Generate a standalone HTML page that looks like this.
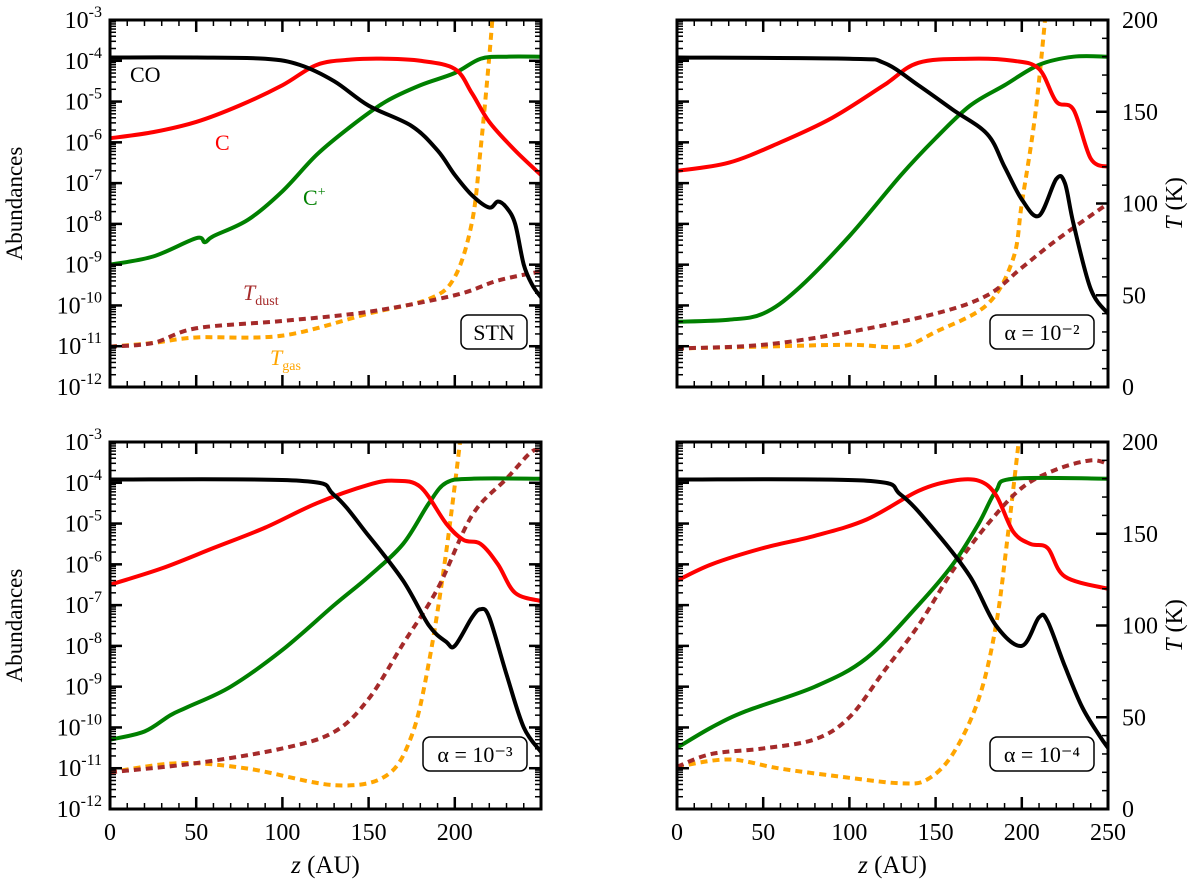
<!DOCTYPE html>
<html><head><meta charset="utf-8"><style>
body{margin:0;background:#fff;}
svg,svg text{font-family:"Liberation Serif","DejaVu Serif",serif;}
</style></head><body>
<svg id="c" width="1200" height="885" xmlns="http://www.w3.org/2000/svg" font-family="Liberation Serif, serif"></svg>
<script>
const zGrid=[0,50,100,150,200,250];
const coSTN=[[0,-3.92],[50,-3.92],[90,-3.95],[110,-4.1],[130,-4.5],[150,-5.1],[175,-5.6],[190,-6.2],[200,-6.8],[210,-7.3],[220,-7.6],[225,-7.45],[230,-7.6],[235,-8],[240,-9],[245,-9.5],[250,-9.8]];
const cSTN=[[0,-5.9],[25,-5.75],[50,-5.5],[75,-5.1],[100,-4.6],[120,-4.1],[140,-3.97],[160,-3.95],[180,-4.0],[200,-4.2],[210,-4.8],[220,-5.5],[235,-6.2],[250,-6.8]];
const cpSTN=[[0,-9.0],[25,-8.8],[50,-8.35],[55,-8.45],[60,-8.3],[80,-7.9],[100,-7.2],[120,-6.3],[140,-5.6],[160,-5.0],[180,-4.6],[200,-4.3],[215,-3.95],[230,-3.9],[250,-3.9]];
const tdSTN=[[0,22],[25,24],[50,32],[100,36],[150,41],[200,50],[225,58],[250,63]];
const tgSTN=[[0,22],[25,24],[50,27],[100,28],[150,40],[185,48],[200,60],[210,90],[215,130],[220,180],[223,215]];

const co2=[[0,-3.92],[100,-3.95],[120,-4.05],[140,-4.6],[160,-5.2],[180,-5.8],[190,-6.6],[200,-7.4],[210,-7.8],[220,-6.9],[225,-7.0],[230,-8.0],[240,-9.6],[250,-10.2]];
const c2=[[0,-6.7],[30,-6.5],[60,-6.0],[90,-5.4],[120,-4.6],[140,-4.05],[170,-3.95],[195,-4.0],[210,-4.2],[220,-5.0],[230,-5.2],[240,-6.4],[250,-6.6]];
const cp2=[[0,-10.4],[30,-10.35],[50,-10.2],[70,-9.6],[100,-8.3],[130,-6.8],[150,-5.9],[170,-5.1],[190,-4.6],[210,-4.1],[230,-3.9],[250,-3.9]];
const td2=[[0,21],[50,23],[100,30],[150,40],[180,50],[200,65],[220,80],[250,100]];
const tg2=[[0,21],[50,22],[100,23],[130,22],[150,30],[180,45],[195,70],[200,100],[208,150],[215,215]];

const co3=[[0,-3.92],[110,-3.95],[130,-4.3],[150,-5.3],[170,-6.4],[185,-7.5],[195,-7.9],[200,-8.0],[210,-7.3],[215,-7.1],[220,-7.3],[230,-8.7],[240,-10.0],[250,-10.6]];
const c3=[[0,-6.5],[30,-6.1],[60,-5.6],[90,-5.1],[120,-4.5],[150,-4.05],[165,-3.95],[180,-4.1],[195,-5.0],[205,-5.4],[215,-5.5],[225,-6.0],[235,-6.7],[250,-6.9]];
const cp3=[[0,-10.3],[20,-10.1],[35,-9.7],[45,-9.5],[70,-9.0],[100,-8.1],[130,-7.0],[150,-6.3],[170,-5.5],[185,-4.5],[195,-4.0],[210,-3.9],[250,-3.9]];
const td3=[[0,20],[50,25],[100,33],[130,42],[150,60],[170,90],[190,120],[210,160],[230,180],[245,195],[250,193]];
const tg3=[[0,20],[40,25],[80,22],[130,13],[160,18],[175,40],[185,80],[195,140],[205,215]];

const co4=[[0,-3.92],[110,-3.95],[130,-4.3],[150,-5.2],[170,-6.3],[185,-7.5],[200,-8.0],[210,-7.3],[215,-7.4],[225,-8.5],[235,-9.5],[245,-10.2],[250,-10.5]];
const c4=[[0,-6.4],[20,-6.0],[50,-5.6],[80,-5.3],[110,-4.9],[140,-4.2],[160,-3.95],[175,-3.95],[185,-4.3],[195,-5.2],[205,-5.5],[215,-5.6],[225,-6.3],[250,-6.6]];
const cp4=[[0,-10.5],[20,-10.0],[40,-9.6],[80,-9.0],[110,-8.3],[140,-7.0],[160,-6.0],[175,-5.0],[185,-4.2],[195,-3.9],[250,-3.9]];
const td4=[[0,23],[20,30],[50,33],[80,38],[100,50],[120,75],[140,100],[160,130],[180,155],[200,175],[220,185],[240,190],[250,188]];
const tg4=[[0,23],[30,27],[60,22],[100,17],[130,14],[145,16],[160,30],[175,60],[185,100],[192,150],[200,215]];

const NS="http://www.w3.org/2000/svg";
const svg=document.getElementById('c');
const FF='Liberation Serif, DejaVu Serif, serif';
function el(t,a,p){const e=document.createElementNS(NS,t);for(const k in a)e.setAttribute(k,a[k]);if(t=='text')e.setAttribute('font-family',FF);(p||svg).appendChild(e);return e;}
function smooth(pts){let d='M'+pts[0][0]+','+pts[0][1];
 for(let i=0;i<pts.length-1;i++){const p0=pts[Math.max(0,i-1)],p1=pts[i],p2=pts[i+1],p3=pts[Math.min(pts.length-1,i+2)];
  const c1=[p1[0]+(p2[0]-p0[0])/6,p1[1]+(p2[1]-p0[1])/6],c2=[p2[0]-(p3[0]-p1[0])/6,p2[1]-(p3[1]-p1[1])/6];
  d+=' C'+c1[0]+','+c1[1]+' '+c2[0]+','+c2[1]+' '+p2[0]+','+p2[1];}
 return d;}
const panels=[
 {x0:110,y0:20,co:coSTN,c:cSTN,cp:cpSTN,td:tdSTN,tg:tgSTN,left:true,right:false,bot:false,lab:'STN'},
 {x0:677,y0:20,co:co2,c:c2,cp:cp2,td:td2,tg:tg2,left:false,right:true,bot:false,lab:'α = 10⁻²'},
 {x0:110,y0:442,co:co3,c:c3,cp:cp3,td:td3,tg:tg3,left:true,right:false,bot:true,lab:'α = 10⁻³'},
 {x0:677,y0:442,co:co4,c:c4,cp:cp4,td:td4,tg:tg4,left:false,right:true,bot:true,lab:'α = 10⁻⁴'}];
const W=431,H=367;
panels.forEach((p,i)=>{
 const xs=z=>p.x0+z/250*W, ya=v=>p.y0+(-3-v)/9*H, yt=t=>p.y0+H-t/200*H;
 const g=el('g',{});
 
 
 const cid='clip'+i;
 const cp=el('clipPath',{id:cid},g);el('rect',{x:p.x0,y:p.y0,width:W,height:H},cp);
 const pg=el('g',{'clip-path':'url(#'+cid+')'},g);
 function line(d,f,col,name,dash){const pl=el('path',{d:smooth(d.map(q=>[xs(q[0]),f(q[1])])),fill:'none',stroke:col,'stroke-width':4,'stroke-dasharray':dash||'none','stroke-linejoin':'round'},pg);
  
  }
 line(p.tg,yt,'#ffa500','tgas-line','7,5');
 line(p.td,yt,'#a52a2a','tdust-line','7,5');
 line(p.cp,ya,'#008000','cplus-line');
 line(p.c,ya,'#ff0000','c-line');
 line(p.co,ya,'#000','co-line');
 el('rect',{x:p.x0,y:p.y0,width:W,height:H,fill:'none',stroke:'#000','stroke-width':3},g);
 for(let z=0;z<=250;z+=10){const maj=z%50==0,L=maj?12:6,x=xs(z);
  el('line',{x1:x,y1:p.y0,x2:x,y2:p.y0+L,stroke:'#000','stroke-width':maj?2.5:1.5},g);
  el('line',{x1:x,y1:p.y0+H,x2:x,y2:p.y0+H-L,stroke:'#000','stroke-width':maj?2.5:1.5},g);}
 if(p.bot){zGrid.forEach(z=>{if(!p.right&&z==250)return;const t=el('text',{x:xs(z),y:p.y0+H+31,'font-size':24,'text-anchor':'middle'},g);t.textContent=z;});
  const t=el('text',{x:p.x0+W/2,y:p.y0+H+64,'font-size':25,'text-anchor':'middle'},g);t.innerHTML='<tspan font-style="italic">z</tspan> (AU)';}
 for(let d=-12;d<-3;d++){for(let m=1;m<10;m++){const v=d+Math.log10(m),y=ya(v),L=m==1?12:6;
  el('line',{x1:p.x0,y1:y,x2:p.x0+L,y2:y,stroke:'#000','stroke-width':m==1?2.5:1.5},g);
  if(!p.right)el('line',{x1:p.x0+W,y1:y,x2:p.x0+W-L,y2:y,stroke:'#000','stroke-width':m==1?2.5:1.5},g);}}
 if(p.left){for(let d=-12;d<=-3;d++){const t=el('text',{x:p.x0-8,y:ya(d)+8,'font-size':24,'text-anchor':'end'},g);t.innerHTML='10<tspan dy="-11" font-size="16">'+d+'</tspan>';}
  const t=el('text',{x:22,y:p.y0+H/2,'font-size':23,'text-anchor':'middle',transform:'rotate(-90 22 '+(p.y0+H/2)+')'},g);t.textContent='Abundances';}
 if(p.right){for(let T=0;T<=200;T+=10){const y=yt(T),maj=T%50==0,L=maj?12:6;el('line',{x1:p.x0+W,y1:y,x2:p.x0+W-L,y2:y,stroke:'#000','stroke-width':maj?2.5:1.5},g);}
  for(let T=0;T<=200;T+=50){const t=el('text',{x:p.x0+W+14,y:yt(T)+8,'font-size':24},g);t.textContent=T;}
  const cy=p.y0+H/2,t=el('text',{x:1182,y:cy,'font-size':24,'text-anchor':'middle',transform:'rotate(-90 1182 '+cy+')'},g);t.innerHTML='<tspan font-style="italic">T</tspan> (K)';}
 const bw=p.lab=='STN'?66:104,bx=p.x0+W-14-bw,by=p.y0+H-72;
 const bg=el('g',{},g);
 el('rect',{x:bx,y:by,width:bw,height:34,rx:7,fill:'#fff',stroke:'#000','stroke-width':1.5},bg);
 const lt=el('text',{x:bx+bw/2,y:by+25,'font-size':22,'text-anchor':'middle'},bg);lt.textContent=p.lab;
});
[['CO',130,82,'#000'],['C',215,150,'#f00'],['C<tspan dy="-9" font-size="14">+</tspan>',303,205,'#008000'],
 ['<tspan font-style="italic">T</tspan><tspan dy="5" font-size="14">dust</tspan>',243,300,'#a52a2a'],
 ['<tspan font-style="italic">T</tspan><tspan dy="5" font-size="14">gas</tspan>',270,365,'#ffa500']].forEach(a=>{
 const t=el('text',{x:a[1],y:a[2],'font-size':22,fill:a[3]});t.innerHTML=a[0];
 
 });
</script>
</body></html>
